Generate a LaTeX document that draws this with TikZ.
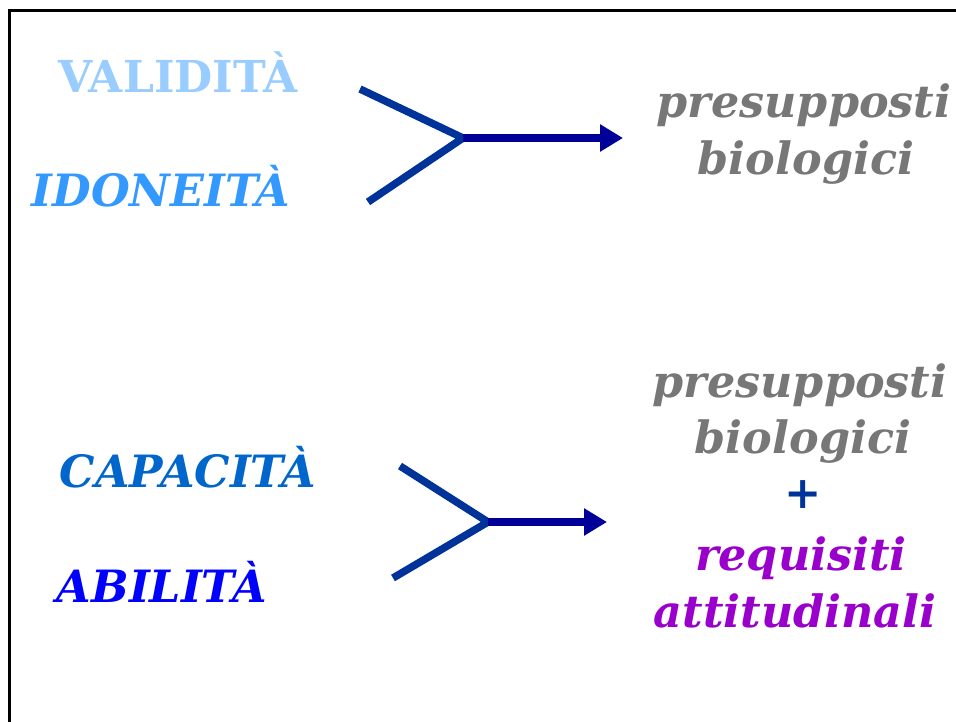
\documentclass[tikz,border=0pt]{standalone}
\usepackage{fontspec}
\setmainfont{DejaVu Serif}
\usepackage{tikz}
\usetikzlibrary{arrows.meta}
\definecolor{lightsky}{HTML}{99CCFF}
\definecolor{midsky}{HTML}{3399FF}
\definecolor{deepsky}{HTML}{0066CC}
\definecolor{pureblue}{HTML}{0000FF}
\definecolor{forkblue}{HTML}{003399}
\definecolor{shaftblue}{HTML}{000099}
\definecolor{greytext}{HTML}{777777}
\definecolor{violet}{HTML}{9900CC}

\begin{document}
\begin{tikzpicture}[x=1pt,y=-1pt,
		word/.style={inner sep=0pt, anchor=base, font=\fontsize{44.5}{52}\selectfont\bfseries\itshape},
		fork/.style={line width=7.5pt, forkblue},
		shaft/.style={line width=7.5pt, shaftblue, -{Triangle[length=23pt,width=26pt]}}]
								\useasboundingbox (0,0) rectangle (956,722);
								\draw[line width=3pt] (9.5,722) -- (9.5,11) -- (956,11);

								% upper group
								\node[word, lightsky, font=\fontsize{44}{52}\selectfont\bfseries\upshape] (valid) at (178,93) {VALIDITÀ};
								\node[word, midsky] (idon) at (161,207) {IDONEITÀ};

								\coordinate (ua) at (360,89);
								\coordinate (ub) at (368,202);
								\coordinate (uj) at (463,138);
								\coordinate (ue) at (623,138);
								\draw[fork] (ua) -- (uj) -- (ub);
								\draw[shaft] (uj) -- (ue);

								\node[word, greytext] (pres1) at (804,118) {presupposti};
								\node[word, greytext] (bio1) at (806,175) {biologici};

								% lower group
								\node[word, deepsky] (capa) at (188,487) {CAPACITÀ};
								\node[word, pureblue] (abil) at (162,602) {ABILITÀ};

								\coordinate (la) at (400,466);
								\coordinate (lb) at (393,578);
								\coordinate (lj) at (488,522);
								\coordinate (le) at (607,522);
								\draw[fork] (la) -- (lj) -- (lb);
								\draw[shaft] (lj) -- (le);

								\node[word, greytext] (pres2) at (800,397) {presupposti};
								\node[word, greytext] (bio2) at (803,453) {biologici};
								\node[word, forkblue] (plus) at (803,508) {+};
								\node[word, violet] (req) at (801,570) {requisiti};
								\node[word, violet] (atti) at (795,627) {attitudinali};
							\end{tikzpicture}
\end{document}
